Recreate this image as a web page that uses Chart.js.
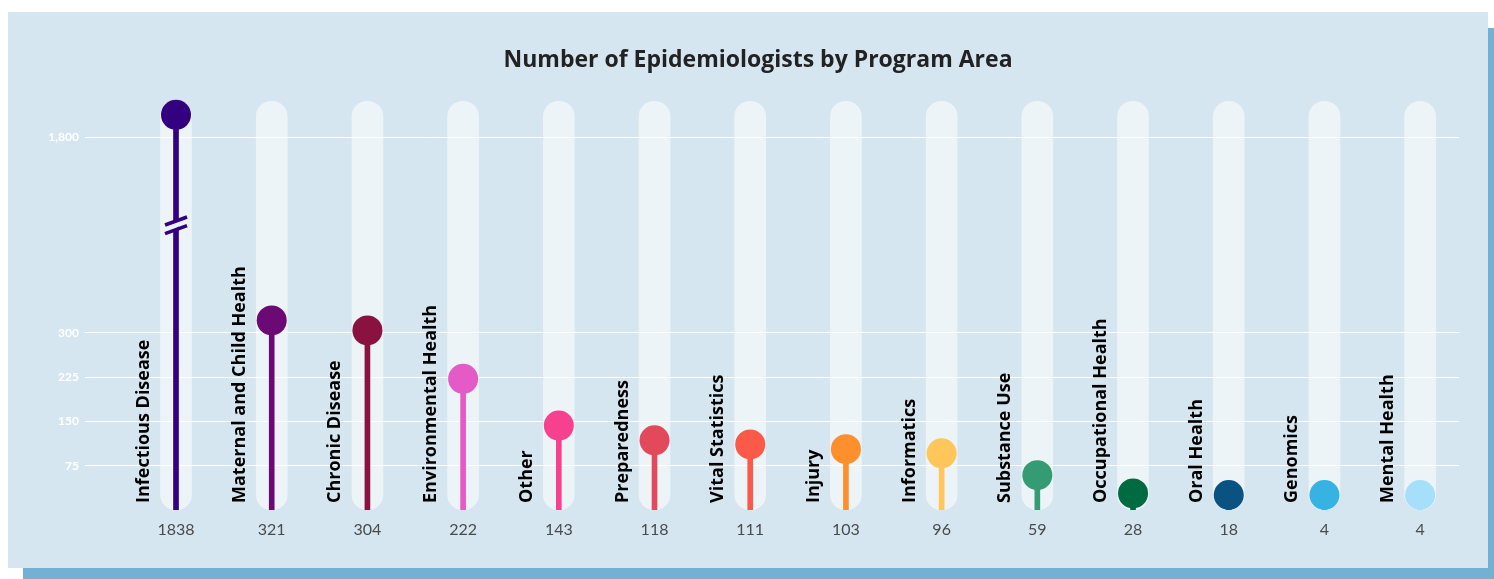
<!DOCTYPE html>
<html>
<head>
<meta charset="utf-8">
<script src="https://cdn.jsdelivr.net/npm/chart.js@4.4.1/dist/chart.umd.min.js"></script>
<style>
  html, body { margin: 0; padding: 0; background: #ffffff; }
  #wrap { position: relative; width: 1494px; height: 579px; overflow: hidden; }
  #shadow { position: absolute; left: 23px; top: 28px; width: 1471px; height: 551px; background: #74afd4; }
  #panel { position: absolute; left: 8px; top: 12px; width: 1480px; height: 556px; background: #d6e6f0; }
  #c { position: absolute; left: 0; top: 0; }
</style>
</head>
<body>
<div id="wrap">
  <div id="shadow"></div>
  <div id="panel"></div>
  <canvas id="c" width="1494" height="579"></canvas>
</div>
<script>
// ---- data ----
const categories = ["Infectious Disease", "Maternal and Child Health", "Chronic Disease", "Environmental Health",
  "Other", "Preparedness", "Vital Statistics", "Injury", "Informatics", "Substance Use",
  "Occupational Health", "Oral Health", "Genomics", "Mental Health"];
const values = [1838, 321, 304, 222, 143, 118, 111, 103, 96, 59, 28, 18, 4, 4];
const colors = ["#330080", "#6b0a74", "#8a1240", "#e45bc8", "#f7418f", "#e24a5b", "#fa5a47",
  "#fd8f2c", "#fec65b", "#349b72", "#006b40", "#0a5282", "#36b2e3", "#a6dffa"];
const yTickValues = [75, 150, 225, 300, 1800];

// ---- axis break (real values between BREAK_FROM and BREAK_TO are skipped) ----
const BREAK_FROM = 482;
const BREAK_TO = 1651;
const GAP = BREAK_TO - BREAK_FROM;
const toPlot = v => (v > BREAK_TO ? v - GAP : v);
const toReal = p => (p > BREAK_FROM ? p + GAP : p);
const TRACK_TOP = 1861;   // height of the light background tracks (real units)
const Y_TOP = 1879;       // top of the value axis (real units)

const FONT = "Lato, 'Open Sans', sans-serif";
const BOLD_FONT = "'Open Sans', Lato, sans-serif";
const DOT_R = 15;

const dotPts = values.map((v, i) => ({ x: i, y: toPlot(v) }));
const stemPts = values.map((v, i) => ({ x: i, y: toPlot(v) }));
const trackPts = values.map((v, i) => ({ x: i, y: toPlot(TRACK_TOP) }));

const extrasPlugin = {
  id: 'extras',
  afterDatasetsUpdate(chart) {
    // keep dots inside their tracks
    const meta = chart.getDatasetMeta(0);
    const bottom = chart.scales.y.getPixelForValue(0);
    meta.data.forEach(el => { if (el.y > bottom - DOT_R) el.y = bottom - DOT_R; });
  },
  afterDatasetsDraw(chart) {
    const ctx = chart.ctx;
    const xs = chart.scales.x, ys = chart.scales.y;
    ctx.save();
    // axis-break marks on stems crossing the break
    values.forEach((v, i) => {
      if (v <= BREAK_TO) return;
      const x = xs.getPixelForValue(i);
      const y = ys.getPixelForValue(BREAK_FROM);
      ctx.fillStyle = '#ecf3f8';
      ctx.beginPath();
      ctx.moveTo(x - 4, y + 5.5);
      ctx.lineTo(x + 4, y + 0.5);
      ctx.lineTo(x + 4, y - 6.5);
      ctx.lineTo(x - 4, y - 1.5);
      ctx.closePath();
      ctx.fill();
      ctx.strokeStyle = colors[i];
      ctx.lineWidth = 3.5;
      ctx.lineCap = 'butt';
      [-4.3, 4.3].forEach(dy => {
        ctx.beginPath();
        ctx.moveTo(x - 11, y + dy + 4);
        ctx.lineTo(x + 11, y + dy - 4);
        ctx.stroke();
      });
    });
    // rotated category labels
    ctx.fillStyle = '#000000';
    ctx.font = "bold 18px " + BOLD_FONT;
    ctx.textAlign = 'left';
    ctx.textBaseline = 'alphabetic';
    const bottom = ys.getPixelForValue(0);
    categories.forEach((name, i) => {
      const x = xs.getPixelForValue(i) - 27;
      ctx.save();
      ctx.translate(x, bottom - 7);
      ctx.rotate(-Math.PI / 2);
      ctx.fillText(name, 0, 0);
      ctx.restore();
    });
    ctx.restore();
  }
};

new Chart(document.getElementById('c'), {
  type: 'bar',
  data: {
    datasets: [
      {
        type: 'line', data: dotPts, showLine: false, order: 0,
        pointRadius: DOT_R, pointHoverRadius: DOT_R, pointBorderWidth: 0,
        pointBackgroundColor: colors, pointBorderColor: colors, backgroundColor: colors
      },
      {
        type: 'bar', data: stemPts, order: 1, grouped: false,
        barThickness: 5, backgroundColor: colors, borderWidth: 0
      },
      {
        type: 'bar', data: trackPts, order: 2, grouped: false,
        barThickness: 31, backgroundColor: 'rgba(255,255,255,0.55)', borderWidth: 0,
        borderRadius: 15.5, borderSkipped: false
      }
    ]
  },
  options: {
    responsive: false,
    animation: false,
    devicePixelRatio: 1,
    layout: { padding: { left: 45, right: 23, top: 0, bottom: 0 } },
    plugins: {
      legend: { display: false },
      tooltip: { enabled: false },
      title: {
        display: true,
        text: 'Number of Epidemiologists by Program Area',
        color: '#222222',
        font: { family: BOLD_FONT, size: 23, weight: 'bold' },
        padding: { top: 47, bottom: 16 }
      }
    },
    scales: {
      x: {
        type: 'linear',
        offset: false,
        min: -0.951, max: 13.406,
        grid: { display: false, drawTicks: false },
        border: { display: false },
        afterBuildTicks: s => { s.ticks = values.map((v, i) => ({ value: i })); },
        afterFit: s => { s.height = 69; },
        ticks: {
          padding: 10,
          color: '#4a4a4a',
          font: { family: FONT, size: 16 },
          callback: v => String(values[v])
        }
      },
      y: {
        min: 0, max: toPlot(Y_TOP),
        grid: { color: '#ffffff', lineWidth: 1, drawTicks: false },
        border: { display: false },
        afterBuildTicks: s => { s.ticks = yTickValues.map(v => ({ value: toPlot(v) })); },
        afterFit: s => { s.width = 40; },
        ticks: {
          padding: 6,
          color: '#ffffff',
          font: { family: FONT, size: 12, weight: 'bold' },
          callback: v => Math.round(toReal(v)).toLocaleString('en-US')
        }
      },
      yRight: {
        position: 'right',
        display: true,
        min: 0, max: 1,
        grid: { display: false, drawTicks: false },
        border: { display: false },
        ticks: { display: false },
        afterFit: s => { s.width = 12; }
      }
    }
  },
  plugins: [extrasPlugin]
});
</script>
</body>
</html>
